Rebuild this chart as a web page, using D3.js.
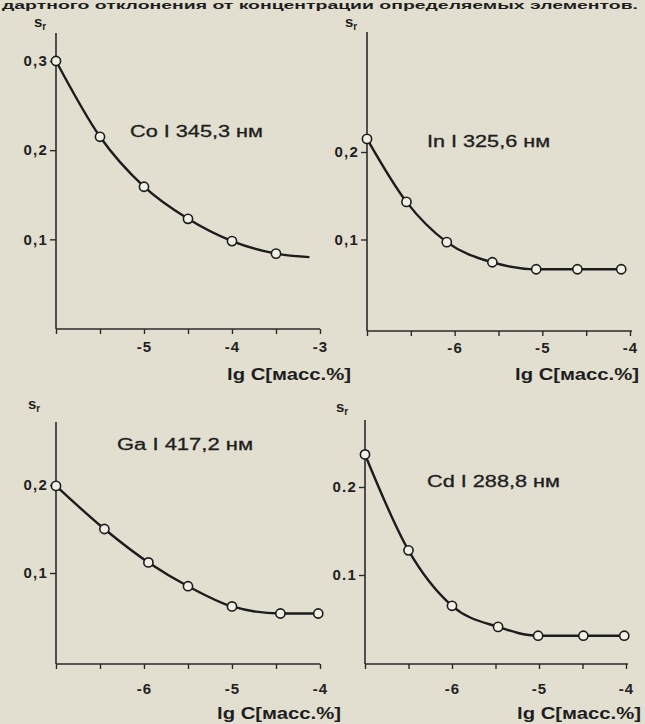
<!DOCTYPE html>
<html>
<head>
<meta charset="utf-8">
<script src="https://cdn.jsdelivr.net/npm/d3@7"></script>
<style>
  html, body { margin: 0; padding: 0; background: #e2dfd0; }
  svg { display: block; }
  .tick text { font-family: "Liberation Sans", Arial, sans-serif; font-weight: bold; font-size: 15px; fill: #222; letter-spacing: 1.2px; }
  .tick line { stroke: #2a2a2a; stroke-width: 1.4; }
</style>
</head>
<body>
<div id="chart"></div>
<script>
// data: s_r against lg C
const coLgC = [-6, -5.5, -5, -4.5, -4, -3.5, -3.12];
const coSr = [0.300, 0.215, 0.159, 0.123, 0.098, 0.084, 0.080];
const coMarked = [true, true, true, true, true, true, false];

const inLgC = [-7, -6.55, -6.09, -5.57, -5.07, -4.6, -4.1];
const inSr = [0.215, 0.143, 0.097, 0.074, 0.066, 0.066, 0.066];

const gaLgC = [-7, -6.45, -5.95, -5.5, -5, -4.45, -4.02];
const gaSr = [0.199, 0.150, 0.112, 0.085, 0.062, 0.054, 0.054];

const cdLgC = [-7, -6.5, -6, -5.47, -5.01, -4.49, -4.02];
const cdSr = [0.237, 0.128, 0.065, 0.041, 0.031, 0.031, 0.031];

const lines = ["Co I 345,3 нм", "In I 325,6 нм", "Ga I 417,2 нм", "Cd I 288,8 нм"];

const xTicksCo = [-6, -5.5, -5, -4.5, -4, -3.5, -3];
const xTicksLow = [-7, -6.5, -6, -5.5, -5, -4.5, -4];
const yTicksCo = [0.1, 0.2, 0.3];
const yTicksLow = [0.1, 0.2];
const yLabelsComma = {0.1: "0,1", 0.2: "0,2", 0.3: "0,3"};
const yLabelsDot = {0.1: "0.1", 0.2: "0.2"};
const axisTitle = "lg C[масс.%]";
const headerText = "дартного отклонения от концентрации определяемых элементов.";

const width = 645, height = 724;
const all = d3.range(7).map(() => true);

// layout of each panel (pixels)
const panels = [
  {label: lines[0], lgC: coLgC, sr: coSr, marked: coMarked, xTicks: xTicksCo, yTicks: yTicksCo, yLabels: yLabelsComma,
   xDom: [-6, -3], xRange: [56, 320], yDom: [0, 0.3], yRange: [328.5, 61], axisY: 329, axisTop: 33, axisRight: 320,
   xPad: 7, labelPos: [130, 137, 133], titlePos: [227, 380], srPos: [34, 27]},
  {label: lines[1], lgC: inLgC, sr: inSr, marked: all, xTicks: xTicksLow, yTicks: yTicksLow, yLabels: yLabelsComma,
   xDom: [-7, -4], xRange: [367, 630], yDom: [0, 0.2], yRange: [327, 152], axisY: 331, axisTop: 32, axisRight: 632,
   xPad: 6, labelPos: [427, 147, 123], titlePos: [515, 380], srPos: [345, 27]},
  {label: lines[2], lgC: gaLgC, sr: gaSr, marked: all, xTicks: xTicksLow, yTicks: yTicksLow, yLabels: yLabelsComma,
   xDom: [-7, -4], xRange: [56, 320], yDom: [0, 0.2], yRange: [661, 485], axisY: 664, axisTop: 422, axisRight: 320,
   xPad: 14, labelPos: [117, 450, 136], titlePos: [217, 719], srPos: [28, 409]},
  {label: lines[3], lgC: cdLgC, sr: cdSr, marked: all, xTicks: xTicksLow, yTicks: yTicksLow, yLabels: yLabelsDot,
   xDom: [-7, -4], xRange: [365, 626], yDom: [0, 0.2], yRange: [663, 487], axisY: 664, axisTop: 420, axisRight: 628,
   xPad: 14, labelPos: [427, 487, 133], titlePos: [517, 719], srPos: [336, 412]}
];

const svg = d3.select("#chart").append("svg").attr("width", width).attr("height", height);
svg.append("rect").attr("width", width).attr("height", height).attr("fill", "#e2dfd0");

// line of page text at the very top
svg.append("text").attr("x", 2).attr("y", 9)
  .attr("textLength", 636).attr("lengthAdjust", "spacingAndGlyphs")
  .style("font-family", "Liberation Sans, Arial, sans-serif").style("font-weight", "bold")
  .style("font-size", "11px").attr("fill", "#1e1e1e").text(headerText);

panels.forEach(p => {
  const x = d3.scaleLinear().domain(p.xDom).range(p.xRange);
  const y = d3.scaleLinear().domain(p.yDom).range(p.yRange);
  const g = svg.append("g");
  const x0 = p.xRange[0];

  // axes lines
  g.append("line").attr("x1", x0).attr("x2", x0).attr("y1", p.axisTop).attr("y2", p.axisY)
    .attr("stroke", "#2a2a2a").attr("stroke-width", 1.6);
  g.append("line").attr("x1", x0).attr("x2", p.axisRight).attr("y1", p.axisY).attr("y2", p.axisY)
    .attr("stroke", "#2a2a2a").attr("stroke-width", 1.6);

  const xAxis = d3.axisBottom(x).tickValues(p.xTicks).tickSize(5).tickPadding(p.xPad)
    .tickFormat(d => (Number.isInteger(d) && d !== p.xDom[0]) ? String(d) : "");
  g.append("g").attr("transform", `translate(0,${p.axisY})`).call(xAxis)
    .call(a => a.select(".domain").remove());

  const yAxis = d3.axisLeft(y).tickValues(p.yTicks).tickSize(6).tickPadding(2)
    .tickFormat(d => p.yLabels[d]);
  g.append("g").attr("transform", `translate(${x0},0)`).call(yAxis)
    .call(a => a.select(".domain").remove());

  // curve
  const pts = p.lgC.map((v, i) => ({x: v, y: p.sr[i], m: p.marked[i]}));
  const line = d3.line().x(d => x(d.x)).y(d => y(d.y)).curve(d3.curveMonotoneX);
  g.append("path").datum(pts).attr("d", line)
    .attr("fill", "none").attr("stroke", "#1c1c1c").attr("stroke-width", 2.4);

  g.selectAll("circle").data(pts.filter(d => d.m)).enter().append("circle")
    .attr("cx", d => x(d.x)).attr("cy", d => y(d.y)).attr("r", 4.6)
    .attr("fill", "#f2f0e6").attr("stroke", "#1c1c1c").attr("stroke-width", 1.6);

  // texts
  g.append("text").attr("x", p.labelPos[0]).attr("y", p.labelPos[1])
    .attr("textLength", p.labelPos[2]).attr("lengthAdjust", "spacingAndGlyphs")
    .style("font-family", "Liberation Sans, Arial, sans-serif").style("font-size", "16px")
    .attr("fill", "#1e1e1e").attr("stroke", "#1e1e1e").attr("stroke-width", 0.3).text(p.label);

  g.append("text").attr("x", p.titlePos[0]).attr("y", p.titlePos[1])
    .attr("textLength", 124).attr("lengthAdjust", "spacingAndGlyphs")
    .style("font-family", "Liberation Sans, Arial, sans-serif").style("font-size", "16px")
    .style("font-weight", "bold").attr("fill", "#1e1e1e").text(axisTitle);

  const sr = g.append("text").attr("x", p.srPos[0]).attr("y", p.srPos[1])
    .style("font-family", "Liberation Sans, Arial, sans-serif").style("font-size", "15px")
    .style("font-weight", "bold").attr("fill", "#1e1e1e");
  sr.append("tspan").text("s");
  sr.append("tspan").attr("dy", 3).style("font-size", "10px").text("r");
});
</script>
</body>
</html>
